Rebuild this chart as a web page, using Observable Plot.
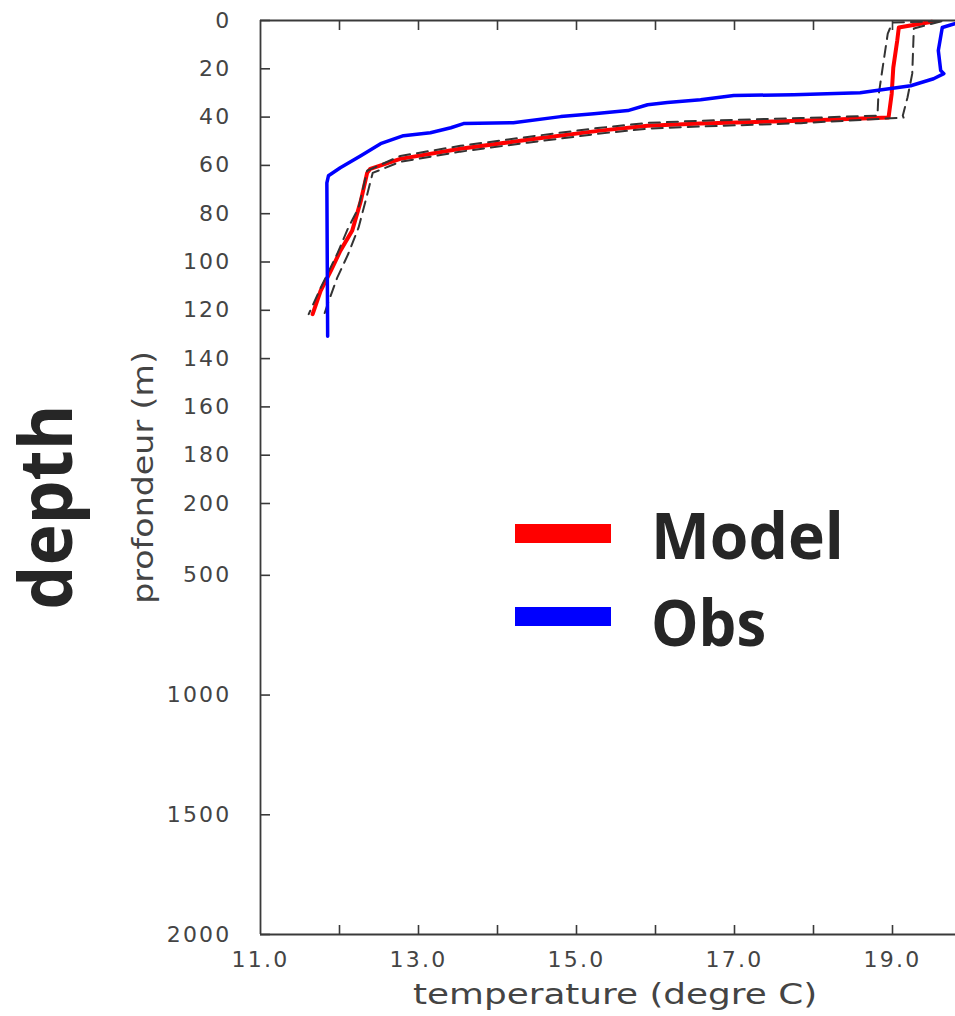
<!DOCTYPE html>
<html><head><meta charset="utf-8">
<script src="https://cdn.jsdelivr.net/npm/d3@7"></script>
<script src="https://cdn.jsdelivr.net/npm/@observablehq/plot@0.6"></script>
<style>
html,body{margin:0;padding:0;background:#fff;overflow:hidden}
#wrap{position:relative;width:955px;height:1016px;overflow:hidden;background:#fff}
.lab{position:absolute;white-space:nowrap;line-height:1;transform-origin:50% 50%}
.vert{writing-mode:vertical-rl}
.sw{position:absolute}
</style></head><body><div id="wrap"></div>
<script>
// ---- data (temperature in degre C, depth in m) ----
const modelTemp  = [19.50, 19.08, 19.06, 19.01, 18.99, 18.95, 17.84, 16.57, 15.90, 15.30, 14.38, 13.53, 12.77, 12.39, 12.35, 12.27, 12.16, 12.01, 11.89, 11.76, 11.66];
const modelDepth = [0.5, 2.9, 8.3, 19.5, 30.3, 40.2, 41.5, 42.7, 43.6, 45.6, 49.4, 53.1, 57.3, 61.4, 63.1, 74.7, 87.1, 95.4, 103.7, 112.0, 121.6];

const lowTemp  = [19.60, 19.00, 18.94, 18.87, 18.82, 18.81, 17.84, 16.57, 15.90, 15.30, 14.38, 13.53, 12.77, 12.35, 12.24, 12.11, 11.97, 11.76, 11.61];
const lowDepth = [0.3, 0.8, 5.4, 20.7, 31.9, 39.4, 40.4, 41.5, 42.4, 44.4, 48.2, 51.9, 56.1, 62.2, 77.6, 85.9, 96.7, 110.8, 121.6];

const highTemp  = [19.62, 19.27, 19.25, 19.19, 19.13, 19.14, 17.84, 16.57, 15.90, 15.30, 14.38, 13.53, 12.77, 12.42, 12.33, 12.24, 12.11, 11.97, 11.85, 11.80];
const highDepth = [0.3, 3.3, 22.0, 31.9, 39.4, 40.2, 42.5, 43.9, 44.8, 46.8, 50.6, 54.3, 58.5, 63.1, 74.7, 85.9, 96.7, 106.6, 117.4, 122.4];

const obsTemp  = [19.86, 19.80, 19.63, 19.58, 19.61, 19.65, 19.52, 19.23, 18.59, 17.75, 16.99, 16.57, 16.15, 15.90, 15.65, 15.22, 14.80, 14.20, 13.57, 13.41, 13.15, 12.81, 12.52, 12.27, 12.01, 11.86, 11.84, 11.85];
const obsDepth = [0.3, 1.2, 2.9, 12.4, 20.7, 22.0, 24.1, 27.0, 29.9, 30.7, 31.1, 32.8, 34.0, 34.9, 37.3, 38.6, 39.8, 42.3, 42.7, 44.4, 46.5, 47.7, 51.0, 56.0, 61.0, 64.3, 67.2, 130.7];

const xTickLabels = [11, 13, 15, 17, 19];
const xTickMarks  = [12, 13, 14, 15, 16, 17, 18, 19];
const yTicks = [0, 20, 40, 60, 80, 100, 120, 140, 160, 180, 200, 500, 1000, 1500, 2000];

const legendItems = [{name: "Model", color: "#ff0000"}, {name: "Obs", color: "#0000ff"}];

const toRows = (T, D) => T.map((t, i) => ({t, d: D[i]}));
const model = toRows(modelTemp, modelDepth);
const low = toRows(lowTemp, lowDepth);
const high = toRows(highTemp, highDepth);
const obs = toRows(obsTemp, obsDepth);

const axisColor = "#3a3a3a";
const textColor = "#444";

const chart = Plot.plot({
  width: 971,
  height: 1016,
  marginLeft: 260,
  marginRight: 0,
  marginTop: 20,
  marginBottom: 82,
  style: {maxWidth: "none", background: "#fff", letterSpacing: "2.2px", fontSize: "22px", fontFamily: "DejaVu Sans"},
  x: {domain: [11, 20]},
  y: {type: "linear", domain: [0, 200, 2000], range: [20, 503, 934]},
  marks: [
    Plot.line(model, {x: "t", y: "d", stroke: "#ff0000", strokeWidth: 4}),
    Plot.line(low, {x: "t", y: "d", stroke: "#333", strokeWidth: 2, strokeDasharray: "11,7"}),
    Plot.line(high, {x: "t", y: "d", stroke: "#333", strokeWidth: 2, strokeDasharray: "11,7"}),
    Plot.line(obs, {x: "t", y: "d", stroke: "#0000ff", strokeWidth: 3.5}),
    Plot.ruleY([0, 2000], {stroke: axisColor, strokeWidth: 1.8}),
    Plot.ruleX([11], {stroke: axisColor, strokeWidth: 1.8}),
    // inward tick marks
    Plot.axisX(xTickMarks, {anchor: "bottom", tickSize: 9, dy: -9, fill: "none", stroke: axisColor, strokeWidth: 1.6, label: null}),
    Plot.axisX(xTickMarks, {anchor: "top", tickSize: 9, dy: 9, fill: "none", stroke: axisColor, strokeWidth: 1.6, label: null}),
    Plot.axisY(yTicks, {anchor: "left", tickSize: 10, dx: 10, fill: "none", stroke: axisColor, strokeWidth: 1.6, label: null}),
    // tick labels
    Plot.axisX(xTickLabels, {anchor: "bottom", tickSize: 0, tickPadding: 17, tickFormat: d3.format(".1f"), fill: textColor, fontSize: 22, fontFamily: "DejaVu Sans", label: null}),
    Plot.axisY(yTicks, {anchor: "left", tickSize: 0, tickPadding: 29, tickFormat: d => String(d), fill: textColor, fontSize: 22, fontFamily: "DejaVu Sans", label: null})
  ]
});

const wrap = document.getElementById("wrap");
wrap.appendChild(chart);

// ---- text labels and legend (HTML) ----
function label(text, o) {
  const s = document.createElement("span");
  s.className = "lab" + (o.rotate ? " vert" : "");
  s.textContent = text;
  Object.assign(s.style, {fontFamily: o.family, fontSize: o.size + "px", fontWeight: o.weight || "normal", color: o.color});
  wrap.appendChild(s);
  if (o.rotate) {
    const h = s.offsetWidth, w = s.offsetHeight; // vertical box: h = line box, w = text length
    const sy = o.length ? o.length / w : 1;
    const b = o.baseline * h;
    s.style.left = (o.bx - b) + "px";
    s.style.top = (o.cy - w / 2) + "px";
    s.style.transform = `rotate(180deg) scaleY(${sy})`;
  } else {
    const w = s.offsetWidth, h = s.offsetHeight;
    const sx = o.length ? o.length / w : 1;
    const b = o.baseline * h;
    s.style.top = (o.by - b) + "px";
    s.style.transformOrigin = o.anchor === "middle" ? "50% 50%" : "0 50%";
    s.style.left = (o.anchor === "middle" ? o.x - w / 2 : o.x) + "px";
    s.style.transform = `scaleX(${sx})`;
  }
}
const OPEN = 0.888, DEJA = 0.846;

label("depth", {family: "Open Sans", weight: 700, size: 74, color: "#262626", rotate: true, bx: 73, cy: 507, length: 205, baseline: OPEN});
label("profondeur (m)", {family: "DejaVu Sans", size: 28, color: textColor, rotate: true, bx: 154, cy: 477, length: 253, baseline: DEJA});
label("temperature (degre C)", {family: "DejaVu Sans", size: 28, color: textColor, anchor: "middle", x: 615, by: 1005, length: 404, baseline: DEJA});

legendItems.forEach((it, i) => {
  const sw = document.createElement("div");
  sw.className = "sw";
  Object.assign(sw.style, {left: "515px", top: (524 + i * 83) + "px", width: "96px", height: "19px", background: it.color});
  wrap.appendChild(sw);
  label(it.name, {family: "Open Sans", weight: 700, size: 65, color: "#262626", x: 651, by: 560 + i * 87, baseline: OPEN, length: i === 0 ? 193 : 115});
});
</script>
</body></html>
